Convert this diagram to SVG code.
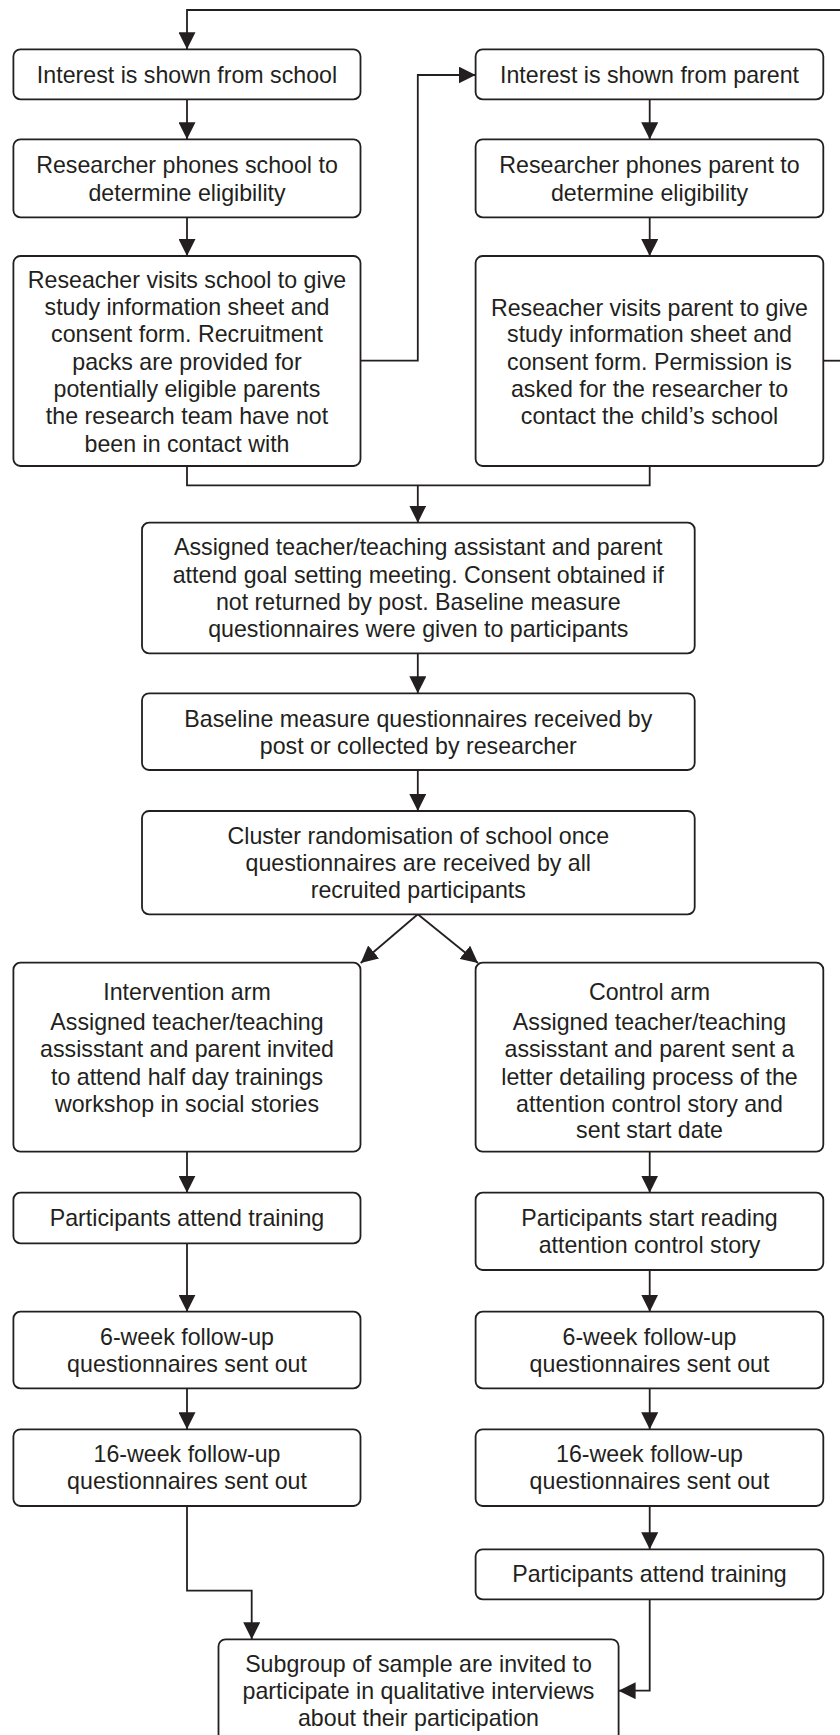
<svg xmlns="http://www.w3.org/2000/svg" width="840" height="1735" viewBox="0 0 840 1735">
<style>
.box{fill:#fff;stroke:#231f20;stroke-width:1.8}
.ln{fill:none;stroke:#231f20;stroke-width:1.8}
text{font-family:"Liberation Sans",Arial,sans-serif;font-size:23.2px;fill:#231f20;text-anchor:middle}
</style>
<defs>
<marker id="ah" markerWidth="17" markerHeight="17" refX="17" refY="8.5" orient="auto" markerUnits="userSpaceOnUse">
<path d="M0,0 L17,8.5 L0,17 Z" fill="#231f20"/>
</marker>
</defs>
<rect width="840" height="1735" fill="#fff"/>
<g id="connectors">
<path class="ln" d="M840,10 H187 V49.3" marker-end="url(#ah)"/>
<path class="ln" d="M187,99.3 V139.3" marker-end="url(#ah)"/>
<path class="ln" d="M649.7,99.3 V139.3" marker-end="url(#ah)"/>
<path class="ln" d="M187,217.3 V256" marker-end="url(#ah)"/>
<path class="ln" d="M649.7,217.3 V256" marker-end="url(#ah)"/>
<path class="ln" d="M360.5,360.7 H417.8 V75 H475.6" marker-end="url(#ah)"/>
<path class="ln" d="M823.3,360.7 H840"/>
<path class="ln" d="M187,466 V485.3 H649.7 V466"/>
<path class="ln" d="M417.8,485.3 V522.7" marker-end="url(#ah)"/>
<path class="ln" d="M417.8,653.3 V693.3" marker-end="url(#ah)"/>
<path class="ln" d="M417.8,770 V811" marker-end="url(#ah)"/>
<path class="ln" d="M417.8,914.3 L360.7,963" marker-end="url(#ah)"/>
<path class="ln" d="M417.8,914.3 L478,963" marker-end="url(#ah)"/>
<path class="ln" d="M187,1151.7 V1192.7" marker-end="url(#ah)"/>
<path class="ln" d="M649.7,1151.7 V1192.7" marker-end="url(#ah)"/>
<path class="ln" d="M187,1243.3 V1311.7" marker-end="url(#ah)"/>
<path class="ln" d="M649.7,1270 V1311.7" marker-end="url(#ah)"/>
<path class="ln" d="M187,1388.3 V1429.3" marker-end="url(#ah)"/>
<path class="ln" d="M649.7,1388.3 V1429.3" marker-end="url(#ah)"/>
<path class="ln" d="M649.7,1506 V1549.3" marker-end="url(#ah)"/>
<path class="ln" d="M187,1506 V1590.7 H251.7 V1639.3" marker-end="url(#ah)"/>
<path class="ln" d="M649.7,1599.3 V1690.7 H618.6" marker-end="url(#ah)"/>
</g>
<g id="n1"><rect class="box" x="13.4" y="49.3" width="347.1" height="50" rx="7"/>
<text x="187" y="82.5">Interest is shown from school</text></g>
<g id="n2"><rect class="box" x="475.6" y="49.3" width="347.7" height="50" rx="7"/>
<text x="649.5" y="82.5">Interest is shown from parent</text></g>
<g id="n3"><rect class="box" x="13.4" y="139.3" width="347.1" height="78" rx="7"/>
<text x="187" y="173.3">Researcher phones school to</text>
<text x="187" y="200.6">determine eligibility</text></g>
<g id="n4"><rect class="box" x="475.6" y="139.3" width="347.7" height="78" rx="7"/>
<text x="649.5" y="173.3">Researcher phones parent to</text>
<text x="649.5" y="200.6">determine eligibility</text></g>
<g id="n5"><rect class="box" x="13.4" y="256" width="347.1" height="210" rx="7"/>
<text x="187" y="287.6">Reseacher visits school to give</text>
<text x="187" y="315">study information sheet and</text>
<text x="187" y="342.3">consent form. Recruitment</text>
<text x="187" y="369.6">packs are provided for</text>
<text x="187" y="397">potentially eligible parents</text>
<text x="187" y="424.3">the research team have not</text>
<text x="187" y="451.6">been in contact with</text></g>
<g id="n6"><rect class="box" x="475.6" y="256" width="347.7" height="210" rx="7"/>
<text x="649.5" y="315.6">Reseacher visits parent to give</text>
<text x="649.5" y="342.3">study information sheet and</text>
<text x="649.5" y="369.6">consent form. Permission is</text>
<text x="649.5" y="397">asked for the researcher to</text>
<text x="649.5" y="424.3">contact the child’s school</text></g>
<g id="n7"><rect class="box" x="142" y="522.7" width="552.7" height="130.6" rx="7"/>
<text x="418.3" y="555">Assigned teacher/teaching assistant and parent</text>
<text x="418.3" y="582.6">attend goal setting meeting. Consent obtained if</text>
<text x="418.3" y="610">not returned by post. Baseline measure</text>
<text x="418.3" y="637.3">questionnaires were given to participants</text></g>
<g id="n8"><rect class="box" x="142" y="693.3" width="552.7" height="76.7" rx="7"/>
<text x="418.3" y="726.6">Baseline measure questionnaires received by</text>
<text x="418.3" y="754">post or collected by researcher</text></g>
<g id="n9"><rect class="box" x="142" y="811" width="552.7" height="103.3" rx="7"/>
<text x="418.3" y="844.3">Cluster randomisation of school once</text>
<text x="418.3" y="871">questionnaires are received by all</text>
<text x="418.3" y="897.6">recruited participants</text></g>
<g id="n10"><rect class="box" x="13.4" y="962.7" width="347.1" height="189" rx="7"/>
<text x="187" y="1000">Intervention arm</text>
<text x="187" y="1030">Assigned teacher/teaching</text>
<text x="187" y="1057.3">assisstant and parent invited</text>
<text x="187" y="1085">to attend half day trainings</text>
<text x="187" y="1111.6">workshop in social stories</text></g>
<g id="n11"><rect class="box" x="475.6" y="962.7" width="347.7" height="189" rx="7"/>
<text x="649.5" y="1000">Control arm</text>
<text x="649.5" y="1030">Assigned teacher/teaching</text>
<text x="649.5" y="1057.3">assisstant and parent sent a</text>
<text x="649.5" y="1085">letter detailing process of the</text>
<text x="649.5" y="1111.6">attention control story and</text>
<text x="649.5" y="1138.3">sent start date</text></g>
<g id="n12"><rect class="box" x="13.4" y="1192.7" width="347.1" height="50.6" rx="7"/>
<text x="187" y="1226">Participants attend training</text></g>
<g id="n13"><rect class="box" x="475.6" y="1192.7" width="347.7" height="77.3" rx="7"/>
<text x="649.5" y="1226">Participants start reading</text>
<text x="649.5" y="1253.3">attention control story</text></g>
<g id="n14"><rect class="box" x="13.4" y="1311.7" width="347.1" height="76.6" rx="7"/>
<text x="187" y="1345">6-week follow-up</text>
<text x="187" y="1371.6">questionnaires sent out</text></g>
<g id="n15"><rect class="box" x="475.6" y="1311.7" width="347.7" height="76.6" rx="7"/>
<text x="649.5" y="1345">6-week follow-up</text>
<text x="649.5" y="1371.6">questionnaires sent out</text></g>
<g id="n16"><rect class="box" x="13.4" y="1429.3" width="347.1" height="76.7" rx="7"/>
<text x="187" y="1462.3">16-week follow-up</text>
<text x="187" y="1489">questionnaires sent out</text></g>
<g id="n17"><rect class="box" x="475.6" y="1429.3" width="347.7" height="76.7" rx="7"/>
<text x="649.5" y="1462.3">16-week follow-up</text>
<text x="649.5" y="1489">questionnaires sent out</text></g>
<g id="n18"><rect class="box" x="475.6" y="1549.3" width="347.7" height="50" rx="7"/>
<text x="649.5" y="1581.6">Participants attend training</text></g>
<g id="n19"><rect class="box" x="218.5" y="1639.3" width="400.1" height="110" rx="7"/>
<text x="418.5" y="1671.6">Subgroup of sample are invited to</text>
<text x="418.5" y="1699">participate in qualitative interviews</text>
<text x="418.5" y="1725.6">about their participation</text></g>
</svg>
